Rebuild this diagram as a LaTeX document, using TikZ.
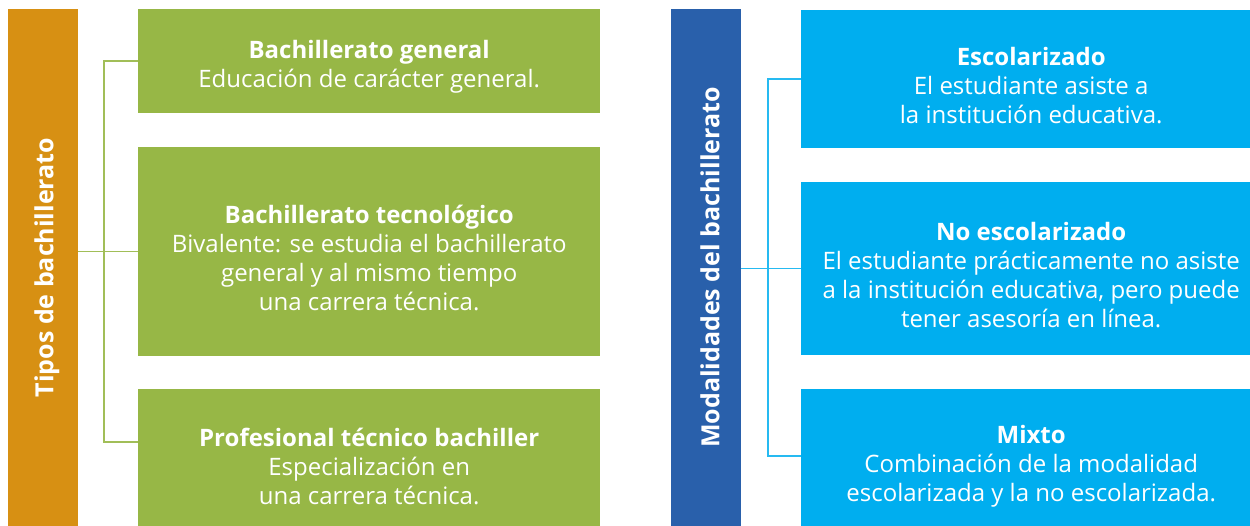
\documentclass[tikz,border=0pt]{standalone}
\usepackage{fontspec}
\setmainfont{Open Sans}
\usetikzlibrary{positioning}

\definecolor{naranja}{HTML}{D79013}
\definecolor{verde}{HTML}{97B746}
\definecolor{azul}{HTML}{2960AB}
\definecolor{celeste}{HTML}{00AEEF}

\newcommand{\titulo}[1]{\rule{0pt}{30pt}\textbf{#1}}

\tikzset{
  barra/.style={inner sep=0, minimum width=70, minimum height=517},
  vtexto/.style={rotate=90, inner sep=0, text=white,
    font=\fontsize{25}{30}\selectfont\bfseries},
  caja/.style={inner sep=0, anchor=north west, minimum width=462, text=white,
    align=center, font=\fontsize{24}{29}\selectfont},
  vline/.style={verde!90!white, line width=1.5pt},
  cline/.style={celeste!85!white, line width=1.5pt}
}

\begin{document}
\begin{tikzpicture}[x=1pt,y=-1pt]
\path[use as bounding box, clip] (0,0) rectangle (1250,526);

% tipos
\node[barra, fill=naranja] (tipos) at (43,267.5) {};
\node[vtexto] (tipostxt) at ([xshift=4]tipos.center) {Tipos de bachillerato};

\node[caja, fill=verde, minimum height=104] (g1) at (138,9)
  {\titulo{Bachillerato general}\\Educación de carácter general.};
\node[caja, fill=verde, minimum height=209] (g2) at (138,147)
  {\titulo{Bachillerato tecnológico}\\Bivalente: se estudia el bachillerato\\general y al mismo tiempo\\una carrera técnica.};
\node[caja, fill=verde, minimum height=142] (g3) at (138,389)
  {\titulo{Profesional técnico bachiller}\\Especialización en\\una carrera técnica.};

\coordinate (gj) at (104,0);
\draw[vline] (g2.west) -- (g2.west -| tipos.east);
\draw[vline] (g1.west) -- (g1.west -| gj) -- ([yshift=-53]g3.north west -| gj) -- ([yshift=-53]g3.north west);

% modalidades
\node[barra, fill=azul] (modal) at (706,267.5) {};
\node[vtexto] (modaltxt) at ([xshift=4]modal.center) {Modalidades del bachillerato};

\node[caja, fill=celeste, minimum width=460, minimum height=138] (c1) at (801,10)
  {\titulo{Escolarizado}\\El estudiante asiste a\\la institución educativa.};
\node[caja, fill=celeste, minimum width=460, minimum height=173] (c2) at (801,182)
  {\titulo{No escolarizado}\\El estudiante prácticamente no asiste\\a la institución educativa, pero puede\\tener asesoría en línea.};
\node[caja, fill=celeste, minimum width=460, minimum height=142] (c3) at (801,389)
  {\titulo{Mixto}\\Combinación de la modalidad\\escolarizada y la no escolarizada.};

\coordinate (cj) at (768,0);
\draw[cline] (c2.west) -- (c2.west -| modal.east);
\draw[cline] (c1.west) -- (c1.west -| cj) -- ([yshift=-67]c3.north west -| cj) -- ([yshift=-67]c3.north west);

\end{tikzpicture}
\end{document}
